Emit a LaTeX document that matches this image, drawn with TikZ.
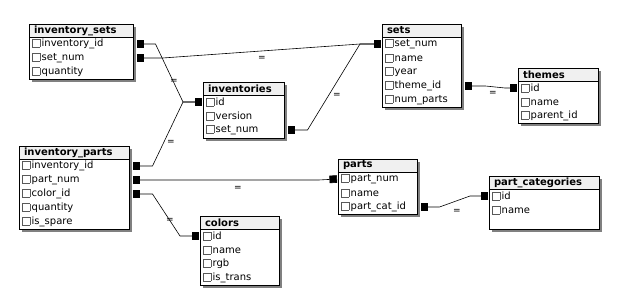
\documentclass[tikz,border=0pt]{standalone}
\usepackage{fontspec}
\setmainfont{DejaVu Sans}
\usepackage{xcolor}
\usepackage{tikz}
\usetikzlibrary{positioning, arrows.meta, calc, shadows}

\newcommand{\chk}{{\color{black!65}\setlength{\fboxsep}{0pt}\setlength{\fboxrule}{0.5pt}\fbox{\rule{0pt}{7pt}\rule{7pt}{0pt}}}\hspace{1.5pt}}

\begin{document}
\begin{tikzpicture}[
    x=1pt, y=-1pt,
    tbl/.style={draw, line width=0.8pt, fill=white, anchor=north west, outer sep=0pt,
      drop shadow={shadow xshift=2.5pt, shadow yshift=-2.5pt, fill=black!50, opacity=1}},
    hdr/.style={draw, line width=0.8pt, fill=black!6, anchor=north west, outer sep=0pt,
      minimum height=13pt, inner xsep=5pt, inner ysep=0pt, align=left, font=\bfseries\fontsize{10}{12}\selectfont},
    field/.style={anchor=west, inner sep=0pt, font=\fontsize{10}{12}\selectfont},
    rel/.style={{Square[length=7.5pt]}-{Square[length=7.5pt]}, line width=0.6pt},
    eq/.style={inner sep=0pt, font=\fontsize{9}{10}\selectfont},
]
\useasboundingbox (0,0) rectangle (629,306);

% --- inventory_sets ---
\node[tbl, minimum width=104, minimum height=55] (invsets) at (29,24) {};
\node[hdr, text width=94pt] (invsets-t) at (invsets.north west) {inventory\_sets};
\foreach \f [count=\i] in {inventory\_id, set\_num, quantity}
  \node[field] (invsets-\i) at ([shift={(3pt,-6pt-14pt*\i)}]invsets.north west) {\chk\f};

% --- inventories ---
\node[tbl, minimum width=81, minimum height=56] (inv) at (203,82) {};
\node[hdr, text width=71pt] (inv-t) at (inv.north west) {inventories};
\foreach \f [count=\i] in {id, version, set\_num}
  \node[field] (inv-\i) at ([shift={(3pt,-6pt-14pt*\i)}]inv.north west) {\chk\f};

% --- sets ---
\node[tbl, minimum width=79, minimum height=83] (sets) at (382,24) {};
\node[hdr, text width=69pt] (sets-t) at (sets.north west) {sets};
\foreach \f [count=\i] in {set\_num, name, year, theme\_id, num\_parts}
  \node[field] (sets-\i) at ([shift={(3pt,-6pt-14pt*\i)}]sets.north west) {\chk\f};

% --- themes ---
\node[tbl, minimum width=80, minimum height=55] (themes) at (518,68) {};
\node[hdr, text width=70pt] (themes-t) at (themes.north west) {themes};
\foreach \f [count=\i] in {id, name, parent\_id}
  \node[field] (themes-\i) at ([shift={(3pt,-6pt-14pt*\i)}]themes.north west) {\chk\f};

% --- inventory_parts ---
\node[tbl, minimum width=110, minimum height=83] (invparts) at (19,146) {};
\node[hdr, text width=100pt] (invparts-t) at (invparts.north west) {inventory\_parts};
\foreach \f [count=\i] in {inventory\_id, part\_num, color\_id, quantity, is\_spare}
  \node[field] (invparts-\i) at ([shift={(3pt,-6pt-14pt*\i)}]invparts.north west) {\chk\f};

% --- colors ---
\node[tbl, minimum width=79, minimum height=69] (colors) at (200,216) {};
\node[hdr, text width=69pt] (colors-t) at (colors.north west) {colors};
\foreach \f [count=\i] in {id, name, rgb, is\_trans}
  \node[field] (colors-\i) at ([shift={(3pt,-6pt-14pt*\i)}]colors.north west) {\chk\f};

% --- parts ---
\node[tbl, minimum width=79, minimum height=55] (parts) at (338,159) {};
\node[hdr, text width=69pt] (parts-t) at (parts.north west) {parts};
\foreach \f [count=\i] in {part\_num, name, part\_cat\_id}
  \node[field] (parts-\i) at ([shift={(3pt,-6pt-14pt*\i)}]parts.north west) {\chk\f};

% --- part_categories ---
\node[tbl, minimum width=110, minimum height=53] (partcats) at (489,176) {};
\node[hdr, text width=100pt] (partcats-t) at (partcats.north west) {part\_categories};
\foreach \f [count=\i] in {id, name}
  \node[field] (partcats-\i) at ([shift={(3pt,-6pt-14pt*\i)}]partcats.north west) {\chk\f};

% --- Relations ---
\draw[rel] ([xshift=3.5pt]invsets-1 -| invsets.east) -- ++(19,0)
  -- ($(inv-1 -| inv.west)+(-20,0)$) -- ([xshift=-1pt]inv-1 -| inv.west);
\draw[rel] ([xshift=3.5pt]invparts-1 -| invparts.east) -- ++(20,0)
  -- ($(inv-1 -| inv.west)+(-20,0)$) -- ([xshift=-1pt]inv-1 -| inv.west);
\draw[rel] ([xshift=3.5pt]invsets-2 -| invsets.east) -- ++(26,0)
  -- ($(sets-1 -| sets.west)+(-22,0)$) -- ([xshift=-1pt]sets-1 -| sets.west);
\draw[rel] ([xshift=3.5pt]inv-3 -| inv.east) -- ++(20,0)
  -- ($(sets-1 -| sets.west)+(-22,0)$) -- ([xshift=-1pt]sets-1 -| sets.west);
\draw[rel] ([xshift=3.5pt]sets-4 -| sets.east) -- ++(21,0)
  -- ($(themes-1 -| themes.west)+(-13,0)$) -- ([xshift=-1pt]themes-1 -| themes.west);
\draw[rel] ([xshift=3.5pt]invparts-2 -| invparts.east) -- ++(186,0)
  -- ([xshift=-1pt]parts-1 -| parts.west);
\draw[rel] ([xshift=3.5pt]invparts-3 -| invparts.east) -- ++(20,0)
  -- ($(colors-1 -| colors.west)+(-20,0)$) -- ([xshift=-1pt]colors-1 -| colors.west);
\draw[rel] ([xshift=3.5pt]parts-3 -| parts.east) -- ++(19,0)
  -- ($(partcats-1 -| partcats.west)+(-19,0)$) -- ([xshift=-1pt]partcats-1 -| partcats.west);

% --- Labels ---
\node[eq] (eq1) at (174,81) {=};
\node[eq] (eq2) at (262,58) {=};
\node[eq] (eq3) at (337,95) {=};
\node[eq] (eq4) at (493,93) {=};
\node[eq] (eq5) at (171,142) {=};
\node[eq] (eq6) at (238,188) {=};
\node[eq] (eq7) at (170,220) {=};
\node[eq] (eq8) at (457,211) {=};
\end{tikzpicture}
\end{document}
